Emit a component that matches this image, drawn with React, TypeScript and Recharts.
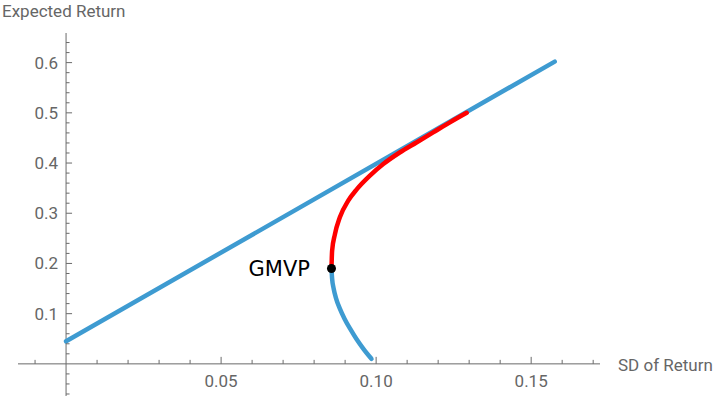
import { ComposedChart, Line, XAxis, YAxis, ReferenceLine, ReferenceDot } from "recharts";

const CHART_W = 720;
const CHART_H = 397;
const MARGIN = { top: 33, right: 120, bottom: 0, left: 17 };
const X_AXIS_H = 1;
const Y_AXIS_W = 1;
const X_DOMAIN: [number, number] = [-0.0155, 0.1722];
const Y_DOMAIN: [number, number] = [-0.064, 0.659];

const AXIS = "#6a6a6a";
const TEXT = "#666666";
const BLUE = "#3e9bd1";
const RED = "#ff0000";

// capital market line (two ends)
const cmlSd = [0, 0.1576];
const cmlMu = [0.045, 0.602];

// lower (inefficient) part of the frontier, bottom end up to the GMVP
const lowerSd = [0.0985, 0.0959, 0.0936, 0.0916, 0.0898, 0.0883, 0.0871, 0.0863, 0.0858, 0.0856];
const lowerMu = [0.010, 0.030, 0.050, 0.070, 0.090, 0.110, 0.130, 0.150, 0.170, 0.190];

// efficient part, GMVP up to the top end
const upperSd = [0.0856, 0.0858, 0.0867, 0.0883, 0.0910, 0.0938, 0.0980, 0.1023, 0.1076, 0.1130, 0.1184, 0.1238, 0.1292];
const upperMu = [0.190, 0.225, 0.258, 0.292, 0.325, 0.348, 0.375, 0.398, 0.421, 0.441, 0.461, 0.481, 0.500];

const gmvp = { sd: 0.0856, mu: 0.190 };

const xMajor = [0.05, 0.1, 0.15];
const xMinor = [-0.01, 0.01, 0.02, 0.03, 0.04, 0.06, 0.07, 0.08, 0.09, 0.11, 0.12, 0.13, 0.14, 0.16, 0.17];
const yMajor = [0.1, 0.2, 0.3, 0.4, 0.5, 0.6];
const yMinor = [-0.06, -0.04, -0.02, 0.02, 0.04, 0.06, 0.08, 0.12, 0.14, 0.16, 0.18, 0.22, 0.24, 0.26, 0.28,
  0.32, 0.34, 0.36, 0.38, 0.42, 0.44, 0.46, 0.48, 0.52, 0.54, 0.56, 0.58, 0.62, 0.64];

const toRows = (sd: number[], mu: number[]) => sd.map((s, i) => ({ sd: s, mu: mu[i] }));
const cmlData = toRows(cmlSd, cmlMu);
const lowerData = toRows(lowerSd, lowerMu);
const upperData = toRows(upperSd, upperMu);

// where the two zero lines sit, so ticks can hang off them
const plotLeft = MARGIN.left + Y_AXIS_W;
const plotW = CHART_W - plotLeft - MARGIN.right;
const plotH = CHART_H - MARGIN.top - MARGIN.bottom - X_AXIS_H;
const zeroX = plotLeft + ((0 - X_DOMAIN[0]) / (X_DOMAIN[1] - X_DOMAIN[0])) * plotW;
const zeroY = MARGIN.top + ((Y_DOMAIN[1] - 0) / (Y_DOMAIN[1] - Y_DOMAIN[0])) * plotH;

const font = { fontFamily: "Roboto", fontSize: 17, fill: TEXT };

function XTick(props: any) {
  const { x, payload } = props;
  const major = xMajor.includes(payload.value);
  return (
    <g>
      <line x1={x} x2={x} y1={zeroY} y2={zeroY - (major ? 7 : 4)} stroke={AXIS} />
      {major && (
        <text x={x} y={zeroY + 23} textAnchor="middle" {...font}>
          {payload.value.toFixed(2)}
        </text>
      )}
    </g>
  );
}

function YTick(props: any) {
  const { y, payload } = props;
  const major = yMajor.includes(payload.value);
  return (
    <g>
      <line x1={zeroX} x2={zeroX + (major ? 6 : 3.5)} y1={y} y2={y} stroke={AXIS} />
      {major && (
        <text x={zeroX - 8} y={y + 6} textAnchor="end" {...font}>
          {payload.value.toFixed(1)}
        </text>
      )}
    </g>
  );
}

export default function App() {
  return (
    <div style={{ position: "absolute", left: 0, top: 0, width: CHART_W, height: CHART_H, background: "#fff" }}>
      <ComposedChart width={CHART_W} height={CHART_H} margin={MARGIN}>
        <XAxis
          type="number"
          dataKey="sd"
          domain={X_DOMAIN}
          allowDataOverflow
          ticks={[...xMinor, ...xMajor]}
          interval={0}
          height={X_AXIS_H}
          axisLine={false}
          tickLine={false}
          tick={<XTick />}
        />
        <YAxis
          type="number"
          dataKey="mu"
          domain={Y_DOMAIN}
          allowDataOverflow
          ticks={[...yMinor, ...yMajor]}
          interval={0}
          width={Y_AXIS_W}
          axisLine={false}
          tickLine={false}
          tick={<YTick />}
        />
        <ReferenceLine y={0} stroke={AXIS} strokeWidth={1} />
        <ReferenceLine x={0} stroke={AXIS} strokeWidth={1} />
        <Line
          data={cmlData}
          dataKey="mu"
          type="linear"
          stroke={BLUE}
          strokeWidth={4.5}
          strokeLinecap="round"
          dot={false}
          activeDot={false}
          isAnimationActive={false}
        />
        <Line
          data={lowerData}
          dataKey="mu"
          type="monotone"
          stroke={BLUE}
          strokeWidth={4.5}
          strokeLinecap="round"
          dot={false}
          activeDot={false}
          isAnimationActive={false}
        />
        <Line
          data={upperData}
          dataKey="mu"
          type="monotone"
          stroke={RED}
          strokeWidth={4.5}
          strokeLinecap="round"
          dot={false}
          activeDot={false}
          isAnimationActive={false}
        />
        <ReferenceDot
          x={gmvp.sd}
          y={gmvp.mu}
          r={4.5}
          fill="#000"
          stroke="none"
          label={{ value: "GMVP", position: "left", offset: 17, fill: "#000", fontSize: 21, fontFamily: "DejaVu Sans" }}
        />
      </ComposedChart>
      <svg
        width={CHART_W}
        height={CHART_H}
        style={{ position: "absolute", left: 0, top: 0, pointerEvents: "none" }}
      >
        <text x={2} y={17} {...font}>Expected Return</text>
        <text x={618} y={371} {...font}>SD of Return</text>
      </svg>
    </div>
  );
}
